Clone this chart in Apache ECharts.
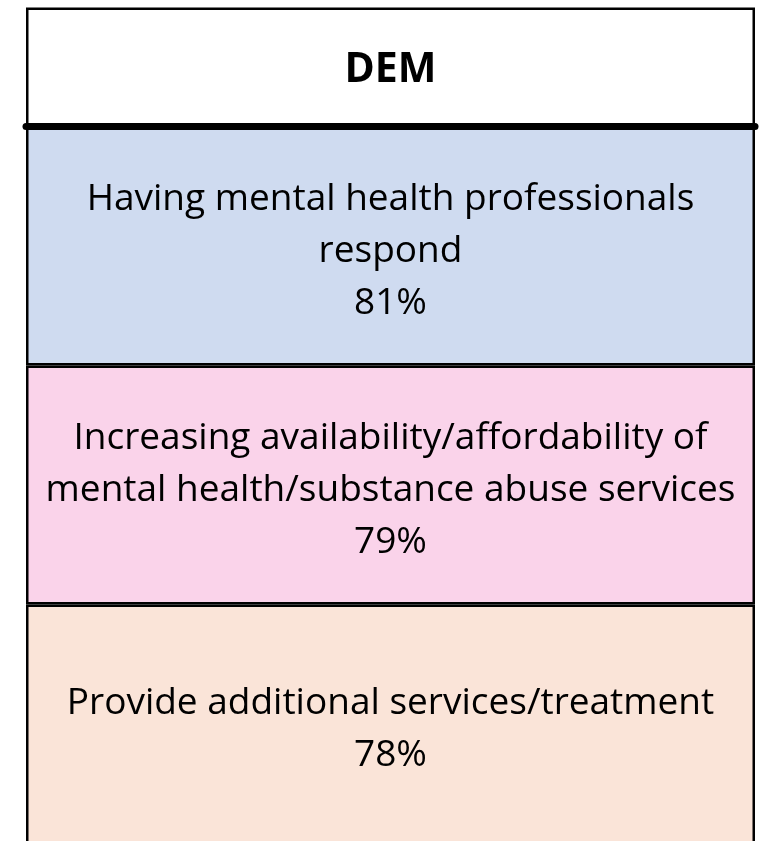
<!DOCTYPE html>
<html>
<head>
<meta charset="utf-8">
<title>DEM</title>
<script src="https://cdn.jsdelivr.net/npm/echarts@6/dist/echarts.min.js"></script>
<style>
  html, body { margin: 0; padding: 0; background: #fff; }
  #chart { width: 764px; height: 841px; }
</style>
</head>
<body>
<div id="chart"></div>
<script>
// table content
var headerLabel = 'DEM';
var categories = [
    'Having mental health professionals\nrespond',
    'Increasing availability/affordability of\nmental health/substance abuse services',
    'Provide additional services/treatment'
];
var shares = [81, 79, 78];
var rowColors = ['#CFDBF0', '#FAD3EA', '#FAE4D8'];

var FONT = 'Open Sans';

var myChart = echarts.init(document.getElementById('chart'));

var option = {
    animation: false,
    backgroundColor: '#fff',
    grid: [
        {left: 26, right: 9, top: 7.5, height: 119, outerBoundsMode: 'none'},
        // last row runs past the bottom edge, so no bottom border shows
        {left: 26, right: 9, top: 126.5, height: 717, outerBoundsMode: 'none'}
    ],
    xAxis: [
        {
            gridIndex: 0, type: 'value', min: 0, max: 1, position: 'bottom', z: 10,
            axisLine: {show: true, onZero: false, lineStyle: {color: '#000', width: 7}},
            axisTick: {show: false}, axisLabel: {show: false}, splitLine: {show: false}
        },
        {
            gridIndex: 1, type: 'value', min: 0, max: 1,
            axisLine: {show: false}, axisTick: {show: false},
            axisLabel: {show: false}, splitLine: {show: false}
        }
    ],
    yAxis: [
        {
            gridIndex: 0, type: 'category', data: [headerLabel],
            axisLine: {show: false}, axisTick: {show: false}, axisLabel: {show: false}
        },
        {
            gridIndex: 1, type: 'category', data: categories, inverse: true,
            axisLine: {show: false}, axisTick: {show: false}, axisLabel: {show: false}
        }
    ],
    series: [
        {
            name: 'header',
            type: 'bar',
            xAxisIndex: 0, yAxisIndex: 0,
            barWidth: '100%',
            silent: true,
            itemStyle: {color: '#fff', borderColor: '#000', borderWidth: 2.5},
            label: {
                show: true, position: 'inside', offset: [0, 3],
                formatter: function (p) { return p.name; },
                color: '#000', fontFamily: FONT, fontWeight: 'bold', fontSize: 41
            },
            data: [1]
        },
        {
            name: 'rows',
            type: 'bar',
            xAxisIndex: 1, yAxisIndex: 1,
            barWidth: '100%',
            silent: true,
            label: {
                show: true, position: 'inside', offset: [0, 5],
                formatter: function (p) {
                    return p.name + '\n' + shares[p.dataIndex] + '%';
                },
                color: '#000', fontFamily: FONT, fontSize: 37, lineHeight: 52, align: 'center'
            },
            data: shares.map(function (v, i) {
                return {
                    value: 1,
                    itemStyle: {color: rowColors[i], borderColor: '#000', borderWidth: 2.5}
                };
            })
        }
    ]
};

myChart.setOption(option);
</script>
</body>
</html>
